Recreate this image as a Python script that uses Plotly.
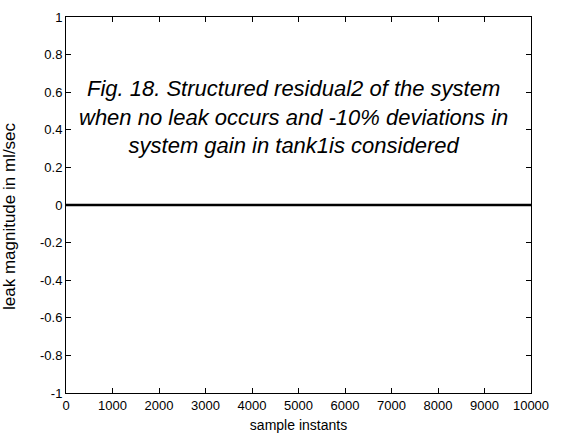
import plotly.graph_objects as go

# Residual signal sampled across the run (stays at zero throughout)
sample_instants = [0, 1000, 2000, 3000, 4000, 5000, 6000, 7000, 8000, 9000, 10000]
residual2 = [0, 0, 0, 0, 0, 0, 0, 0, 0, 0, 0]

x_ticks = [0, 1000, 2000, 3000, 4000, 5000, 6000, 7000, 8000, 9000, 10000]
x_tick_text = ["0", "1000", "2000", "3000", "4000", "5000", "6000", "7000", "8000", "9000", "10000"]
y_ticks = [-1, -0.8, -0.6, -0.4, -0.2, 0, 0.2, 0.4, 0.6, 0.8, 1]
y_tick_text = ["-1", "-0.8", "-0.6", "-0.4", "-0.2", "0", "0.2", "0.4", "0.6", "0.8", "1"]

caption = ("Fig. 18. Structured residual2 of the system<br>"
           "when no leak occurs and -10% deviations in<br>"
           "system gain in tank1is considered")

FONT = "Liberation Sans, Arial"

fig = go.Figure()
fig.add_trace(go.Scatter(
    x=sample_instants, y=residual2, mode="lines",
    line=dict(color="black", width=2.6), showlegend=False,
))

axis_common = dict(
    showgrid=False, zeroline=False, showline=True, linecolor="black",
    linewidth=1, mirror="ticks", ticks="inside", ticklen=5, tickcolor="black",
    tickfont=dict(family=FONT, size=13, color="black"),
)

fig.update_layout(
    width=564, height=441,
    margin=dict(l=66, r=33, t=10, b=48),
    paper_bgcolor="white", plot_bgcolor="white",
    xaxis=dict(range=[0, 10000], tickvals=x_ticks, ticktext=x_tick_text,
               title=dict(text="sample instants", standoff=8,
                          font=dict(family=FONT, size=14, color="black")),
               **axis_common),
    yaxis=dict(range=[-1, 1], tickvals=y_ticks, ticktext=y_tick_text,
               **axis_common),
    annotations=[
        dict(
            text=caption, xref="paper", yref="paper", x=0.49, y=0.848,
            xanchor="center", yanchor="top", showarrow=False, align="center",
            font=dict(family=FONT, size=22, color="black", style="italic"),
        ),
        # vertical axis label
        dict(
            text="leak magnitude in ml/sec", xref="paper", yref="paper",
            x=-0.121, y=0.47, xanchor="center", yanchor="middle",
            textangle=-90, showarrow=False,
            font=dict(family=FONT, size=17, color="black"),
        ),
    ],
)

fig.write_html("out.html")
